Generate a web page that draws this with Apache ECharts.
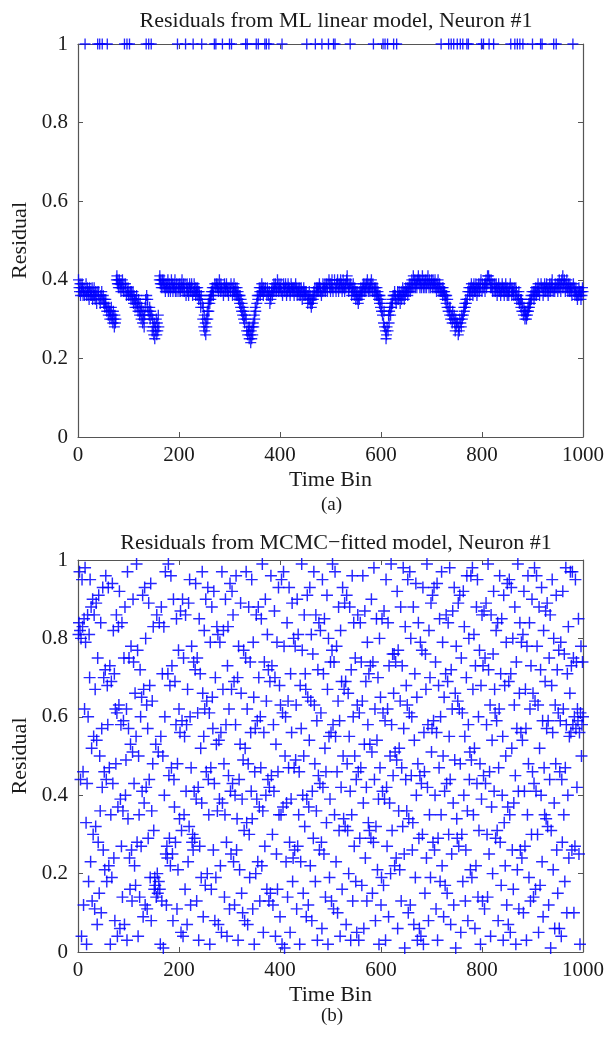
<!DOCTYPE html>
<html>
<head>
<meta charset="utf-8">
<script src="https://cdn.jsdelivr.net/npm/echarts@6/dist/echarts.min.js"></script>
<style>html,body{margin:0;padding:0;background:#fff;}#c{width:607px;height:1037px;}</style>
</head>
<body>
<div id="c"></div>
<script>
// ---------- DATA ----------
const titleA = 'Residuals from ML linear model, Neuron #1';
const titleB = 'Residuals from MCMC\u2212fitted model, Neuron #1';
const xTicks = [0, 200, 400, 600, 800, 1000];
const yTicks = [0, 0.2, 0.4, 0.6, 0.8, 1];

// time bins where the ML residual equals 1
const spikeBins = [14,39,43,48,58,92,97,102,135,140,145,197,213,228,245,270,273,286,300,304,332,335,353,357,370,373,378,404,453,470,483,496,506,509,539,585,604,608,613,625,631,719,734,739,744,751,757,762,770,773,799,803,814,823,857,865,870,875,881,900,916,919,942,947,980];

// ML residuals, bins 1..1000 (non-spike level)
const resA = [
.40,.38,.37,.39,.36,.38,.37,.39,.38,.36,.37,.38,.36,.38,.37,.39,.36,.37,.38,.36,.37,.35,.38,.37,.36,
.37,.36,.38,.35,.37,.36,.38,.36,.35,.37,.36,.34,.37,.35,.36,.37,.35,.36,.34,.36,.35,.37,.34,.35,.36,
.34,.35,.33,.34,.35,.33,.32,.34,.33,.31,.33,.32,.30,.32,.31,.33,.30,.31,.29,.32,.30,.28,.31,.29,.30,
.40,.41,.39,.40,.38,.39,.40,.38,.39,.37,.39,.38,.40,.38,.37,.39,.38,.37,.39,.38,.36,.38,.37,.38,.36,
.37,.38,.36,.37,.35,.37,.36,.35,.37,.34,.36,.35,.33,.35,.34,.36,.33,.34,.32,.35,.33,.31,.34,.32,.30,
.33,.31,.29,.32,.30,.28,.31,.33,.35,.34,.36,.33,.35,.32,.34,.31,.33,.30,.32,.29,.31,.27,.30,.28,.26,
.29,.25,.28,.27,.30,.26,.29,.27,.31,.28,.40,.41,.39,.40,.38,.39,.40,.38,.39,.40,.38,.39,.37,.39,.38,
.39,.38,.40,.37,.39,.38,.39,.37,.38,.40,.38,.39,.37,.38,.39,.38,.40,.37,.38,.39,.37,.38,.39,.38,.37,
.39,.38,.37,.39,.38,.40,.38,.37,.39,.38,.37,.39,.38,.36,.38,.39,.37,.38,.36,.38,.39,.37,.38,.37,.39,
.38,.36,.38,.37,.39,.37,.38,.36,.38,.37,.36,.38,.37,.35,.37,.36,.35,.33,.36,.32,.34,.30,.33,.28,.31,
.27,.29,.26,.30,.28,.32,.30,.34,.32,.35,.34,.36,.35,.37,.36,.38,.37,.36,.38,.37,.39,.38,.37,.39,.38,
.38,.39,.37,.38,.40,.38,.37,.39,.38,.37,.39,.38,.36,.38,.39,.37,.38,.37,.39,.38,.37,.38,.36,.38,.37,
.38,.37,.39,.37,.38,.36,.38,.37,.39,.37,.36,.38,.37,.36,.38,.36,.37,.35,.36,.34,.36,.33,.35,.32,.34,
.31,.33,.30,.32,.29,.31,.28,.30,.27,.29,.26,.28,.27,.25,.28,.26,.24,.27,.25,.28,.26,.29,.28,.31,.30,
.33,.32,.35,.34,.36,.35,.37,.36,.38,.37,.36,.38,.37,.39,.37,.38,.36,.38,.37,.39,.38,.37,.38,.36,.38,
.37,.36,.35,.37,.34,.36,.35,.37,.38,.36,.38,.37,.39,.38,.37,.39,.38,.37,.38,.40,.38,.37,.39,.38,.37,
.38,.39,.37,.38,.36,.38,.39,.37,.38,.37,.39,.38,.36,.38,.37,.39,.38,.37,.38,.36,.37,.39,.38,.37,.38,
.37,.38,.36,.38,.37,.39,.37,.38,.36,.37,.38,.37,.36,.38,.37,.36,.38,.37,.35,.37,.36,.38,.37,.36,.37,
.36,.37,.35,.36,.34,.36,.35,.37,.35,.34,.36,.33,.35,.34,.36,.35,.37,.36,.38,.37,.36,.38,.37,.38,.37,
.38,.37,.39,.38,.37,.38,.36,.38,.37,.39,.38,.37,.38,.39,.37,.38,.39,.38,.37,.39,.38,.40,.38,.39,.37,
.39,.38,.40,.38,.37,.39,.38,.40,.39,.38,.37,.39,.38,.40,.39,.37,.38,.39,.38,.40,.38,.39,.37,.38,.40,
.38,.39,.37,.38,.39,.38,.40,.41,.39,.38,.37,.39,.38,.37,.39,.38,.36,.38,.37,.39,.37,.36,.38,.37,.35,
.37,.36,.35,.37,.34,.36,.35,.37,.36,.38,.37,.36,.38,.37,.39,.38,.37,.39,.38,.37,.39,.38,.40,.38,.37,
.39,.38,.37,.39,.38,.40,.38,.37,.39,.38,.37,.38,.36,.38,.37,.36,.38,.36,.37,.35,.36,.34,.36,.33,.35,
.32,.34,.31,.33,.29,.32,.28,.30,.27,.25,.26,.28,.30,.27,.31,.29,.32,.33,.31,.34,.33,.35,.34,.36,.35,
.36,.37,.35,.36,.34,.36,.35,.37,.36,.35,.37,.36,.34,.36,.37,.35,.36,.38,.36,.37,.35,.37,.36,.38,.37,
.37,.38,.36,.38,.37,.39,.38,.37,.39,.38,.40,.38,.39,.41,.38,.40,.39,.38,.40,.39,.38,.40,.39,.41,.39,
.40,.38,.39,.40,.38,.39,.41,.39,.38,.40,.39,.38,.40,.39,.38,.40,.39,.41,.39,.38,.40,.39,.38,.39,.40,
.39,.38,.40,.39,.38,.39,.40,.38,.39,.37,.39,.38,.40,.38,.37,.39,.38,.37,.39,.37,.38,.36,.38,.37,.36,
.37,.35,.36,.34,.36,.33,.35,.32,.34,.33,.31,.33,.30,.32,.31,.29,.32,.30,.28,.31,.29,.27,.30,.28,.29,
.27,.29,.26,.28,.27,.30,.26,.29,.28,.31,.30,.32,.31,.33,.32,.34,.33,.35,.34,.36,.35,.37,.36,.38,.37,
.36,.38,.37,.39,.37,.38,.36,.38,.39,.37,.38,.37,.39,.38,.36,.38,.37,.39,.38,.37,.39,.38,.40,.38,.37,
.39,.38,.40,.38,.39,.37,.39,.40,.38,.39,.41,.39,.41,.38,.40,.39,.38,.40,.38,.39,.37,.39,.38,.37,.39,
.38,.37,.39,.38,.36,.38,.37,.39,.38,.37,.38,.36,.38,.37,.39,.38,.37,.38,.36,.38,.37,.39,.37,.38,.36,
.38,.37,.36,.38,.37,.39,.37,.38,.36,.37,.38,.37,.36,.38,.37,.36,.38,.37,.35,.37,.36,.35,.37,.34,.36,
.35,.33,.35,.32,.34,.33,.31,.33,.32,.30,.32,.31,.30,.32,.31,.33,.32,.34,.33,.35,.34,.36,.35,.37,.36,
.36,.37,.35,.37,.36,.38,.37,.36,.38,.37,.39,.37,.38,.36,.38,.37,.39,.38,.37,.38,.36,.38,.37,.39,.38,
.37,.38,.39,.37,.38,.36,.38,.37,.39,.38,.37,.39,.38,.40,.38,.37,.39,.38,.37,.39,.38,.40,.38,.39,.37,
.39,.38,.40,.38,.39,.37,.39,.40,.38,.41,.39,.38,.40,.39,.37,.39,.38,.40,.38,.37,.39,.38,.37,.39,.38,
.37,.38,.36,.38,.37,.39,.37,.38,.36,.37,.38,.36,.37,.35,.37,.36,.38,.37,.36,.37,.35,.37,.36,.38,.37
];

// MCMC residuals, bins 1..1000
const resB = [
.81,.84,.97,.82,.44,.80,.04,.95,.83,.46,.12,.85,.62,.98,.79,.33,.02,.43,.86,.60,.18,.81,.70,.95,.23,
.88,.52,.13,.90,.30,.55,.86,.11,.67,.32,.89,.54,.07,.75,.28,.91,.15,.50,.36,.84,.10,.57,.42,.93,.26,
.70,.46,.21,.72,.96,.44,.18,.68,.58,.93,.22,.47,.73,.02,.35,.69,.19,.94,.43,.82,.24,.71,.08,.62,.48,
.86,.61,.04,.37,.83,.63,.92,.06,.39,.58,.27,.84,.14,.36,.59,.75,.07,.88,.40,.49,.62,.03,.97,.34,.57,
.75,.24,.16,.53,.78,.26,.13,.51,.90,.74,.43,.22,.66,.17,.55,.99,.28,.77,.04,.50,.35,.14,.72,.60,.27,
.65,.41,.91,.09,.67,.38,.93,.12,.80,.42,.63,.11,.57,.29,.89,.44,.68,.19,.94,.08,.36,.64,.48,.83,.31,
.16,.19,.17,.53,.14,.86,.20,.15,.51,.18,.84,.16,.02,.55,.88,.13,.71,.50,.01,.83,.40,.60,.97,.25,.12,
.27,.24,.71,.99,.45,.29,.68,.22,.96,.47,.73,.25,.08,.90,.44,.37,.69,.28,.58,.85,.11,.48,.21,.77,.62,
.34,.56,.87,.05,.31,.59,.90,.04,.75,.35,.55,.16,.86,.41,.58,.07,.67,.23,.89,.32,.95,.60,.12,.47,.78,
.28,.30,.26,.74,.41,.29,.72,.94,.39,.13,.75,.61,.42,.03,.85,.27,.71,.52,.19,.38,.97,.66,.09,.55,.82,
.62,.17,.90,.46,.64,.20,.93,.44,.35,.61,.02,.79,.47,.16,.88,.65,.57,.26,.92,.43,.08,.70,.19,.53,.83,
.36,.81,.07,.54,.39,.79,.22,.56,.05,.97,.38,.67,.82,.48,.14,.35,.90,.58,.28,.04,.73,.83,.45,.62,.11,
.94,.41,.25,.67,.92,.43,.86,.23,.69,.12,.40,.58,.96,.26,.34,.70,.03,.78,.44,.21,.53,.89,.66,.15,.39,
.10,.49,.77,.31,.08,.52,.75,.97,.33,.62,.07,.48,.88,.30,.19,.74,.56,.41,.95,.34,.11,.79,.65,.02,.46,
.57,.20,.86,.39,.59,.23,.88,.70,.37,.13,.60,.47,.85,.22,.99,.36,.05,.56,.74,.27,.90,.40,.64,.16,.81,
.44,.72,.13,.42,.69,.15,.96,.45,.73,.30,.12,.58,.41,.87,.70,.04,.53,.25,.79,.16,.46,.93,.35,.68,.09,
.63,.35,.95,.02,.61,.37,.97,.78,.01,.50,.60,.23,.38,.84,.14,.64,.47,.93,.28,.05,.71,.39,.56,.89,.18,
.24,.80,.47,.26,.78,.49,.63,.11,.90,.27,.81,.35,.46,.02,.68,.23,.57,.99,.77,.40,.15,.50,.86,.32,.71,
.67,.09,.39,.91,.65,.12,.37,.54,.93,.22,.64,.81,.08,.41,.76,.29,.97,.63,.48,.18,.86,.36,.59,.03,.72,
.45,.84,.26,.43,.82,.61,.28,.06,.95,.42,.71,.25,.85,.52,.14,.46,.33,.91,.67,.02,.80,.55,.19,.39,.74,
.56,.13,.77,.99,.58,.11,.74,.35,.97,.55,.23,.78,.46,.10,.64,.88,.31,.59,.04,.82,.42,.69,.16,.93,.50,
.34,.67,.89,.32,.69,.07,.91,.48,.31,.66,.20,.55,.88,.41,.03,.72,.35,.96,.13,.60,.84,.27,.50,.75,.18,
.44,.05,.63,.86,.46,.03,.61,.29,.84,.47,.74,.17,.64,.96,.38,.06,.53,.87,.24,.69,.42,.13,.79,.58,.33,
.71,.31,.53,.73,.29,.90,.51,.15,.74,.28,.98,.44,.62,.08,.32,.85,.54,.21,.70,.39,.02,.80,.47,.65,.12,
.19,.85,.41,.61,.17,.87,.39,.59,.03,.95,.42,.27,.62,.84,.09,.73,.38,.50,.20,.99,.58,.31,.76,.45,.66,
.76,.22,.51,.74,.24,.49,.92,.06,.77,.36,.52,.21,.64,.88,.13,.47,.73,.32,.98,.57,.25,.01,.83,.44,.68,
.36,.63,.95,.10,.34,.61,.97,.12,.80,.45,.60,.26,.33,.88,.07,.54,.71,.19,.94,.40,.65,.03,.48,.84,.29,
.06,.45,.79,.04,.43,.77,.30,.93,.02,.56,.46,.15,.76,.67,.24,.99,.42,.58,.08,.82,.35,.70,.19,.89,.51,
.57,.91,.28,.59,.93,.26,.40,.74,.11,.56,.94,.03,.29,.68,.47,.85,.18,.60,.35,.97,.22,.79,.50,.09,.65,
.41,.17,.71,.86,.43,.15,.69,.84,.30,.55,.98,.44,.07,.72,.25,.62,.87,.38,.12,.93,.49,.66,.01,.78,.34,
.29,.64,.89,.27,.62,.91,.48,.05,.75,.30,.61,.18,.92,.40,.83,.55,.13,.26,.70,.96,.36,.08,.58,.80,.44,
.51,.21,.96,.49,.19,.98,.67,.35,.81,.52,.06,.73,.22,.88,.43,.95,.14,.60,.31,.77,.48,.02,.68,.39,.86,
.13,.73,.45,.87,.11,.75,.43,.89,.58,.30,.14,.99,.72,.25,.46,.63,.04,.86,.37,.54,.20,.76,.92,.41,.67,
.61,.29,.82,.59,.31,.84,.08,.47,.62,.96,.28,.71,.17,.85,.40,.55,.03,.91,.33,.68,.22,.50,.79,.12,.94,
.37,.07,.69,.95,.35,.05,.71,.93,.52,.26,.80,.16,.38,.63,.88,.45,.02,.74,.57,.21,.99,.41,.11,.66,.84,
.26,.56,.79,.24,.54,.81,.10,.92,.41,.27,.67,.57,.03,.78,.35,.96,.48,.19,.84,.62,.13,.73,.30,.90,.46,
.66,.14,.43,.98,.64,.16,.41,.96,.78,.30,.63,.05,.88,.52,.17,.72,.40,.93,.23,.59,.09,.82,.47,.35,.69,
.87,.34,.57,.89,.32,.59,.12,.75,.44,.86,.01,.31,.68,.95,.56,.21,.80,.38,.06,.63,.48,.91,.26,.72,.15,
.61,.77,.06,.46,.59,.79,.04,.44,.28,.92,.62,.35,.76,.18,.47,.98,.58,.10,.71,.40,.83,.24,.55,.66,.97,
.56,.73,.26,.97,.58,.75,.10,.60,.27,.95,.57,.74,.42,.62,.59,.85,.25,.56,.02,.61,.78,.50,.58,.74,.60
];

// ---------- CHART ----------
const FONT = 'Liberation Serif';
const TXT = '#1a1a1a';
const AX = '#555';
const BLUE = '#0000ff';
const plus = 'path://M4.4,0H5.6V4.4H10V5.6H5.6V10H4.4V5.6H0V4.4H4.4Z';

const topData = resA.map((v, i) => [i + 1, spikeBins.indexOf(i + 1) >= 0 ? 1 : v]);
const botData = resB.map((v, i) => [i + 1, v]);

function xAx(grid, main) {
  return {
    type: 'value', gridIndex: grid, min: xTicks[0], max: xTicks[xTicks.length - 1], interval: 200,
    position: main ? 'bottom' : 'top',
    name: main ? 'Time Bin' : '', nameLocation: 'middle', nameGap: 32,
    nameTextStyle: {fontFamily: FONT, fontSize: 22, color: TXT},
    axisLine: {show: true, onZero: false, lineStyle: {color: AX, width: 1.2}},
    axisTick: {show: true, inside: true, length: 5, lineStyle: {color: AX}},
    axisLabel: {show: main, margin: 8, fontFamily: FONT, fontSize: 21, color: TXT,
      formatter: v => String(v)},
    splitLine: {show: false}
  };
}
function yAx(grid, main) {
  return {
    type: 'value', gridIndex: grid, min: yTicks[0], max: yTicks[yTicks.length - 1], interval: 0.2,
    position: main ? 'left' : 'right',
    name: main ? 'Residual' : '', nameLocation: 'middle', nameGap: 43, nameRotate: 90,
    nameTextStyle: {fontFamily: FONT, fontSize: 22, color: TXT},
    axisLine: {show: true, onZero: false, lineStyle: {color: AX, width: 1.2}},
    axisTick: {show: true, inside: true, length: 5, lineStyle: {color: AX}},
    axisLabel: {show: main, margin: 10, fontFamily: FONT, fontSize: 21, color: TXT},
    splitLine: {show: false}
  };
}

const chart = echarts.init(document.getElementById('c'), null, {renderer: 'canvas'});
chart.setOption({
  backgroundColor: '#fff',
  animation: false,
  title: [
    {text: titleA, left: 331, textAlign: 'center', top: 5, textStyle: {fontFamily: FONT, fontSize: 22, fontWeight: 'normal', color: TXT}},
    {text: titleB, left: 331, textAlign: 'center', top: 527, textStyle: {fontFamily: FONT, fontSize: 22, fontWeight: 'normal', color: TXT}}
  ],
  graphic: [
    {type: 'text', left: 321, top: 496, style: {text: '(a)', font: '19px "Liberation Serif"', fill: TXT}},
    {type: 'text', left: 321, top: 1007, style: {text: '(b)', font: '19px "Liberation Serif"', fill: TXT}}
  ],
  grid: [
    {left: 78, right: 24, top: 44, height: 393},
    {left: 78, right: 24, top: 560, height: 392}
  ],
  xAxis: [xAx(0, true), xAx(0, false), xAx(1, true), xAx(1, false)],
  yAxis: [yAx(0, true), yAx(0, false), yAx(1, true), yAx(1, false)],
  series: [
    {type: 'scatter', xAxisIndex: 0, yAxisIndex: 0, data: topData, symbol: plus, symbolSize: 11,
      itemStyle: {color: BLUE, opacity: 0.85}, silent: true, clip: false},
    {type: 'scatter', xAxisIndex: 2, yAxisIndex: 2, data: botData, symbol: plus, symbolSize: 12,
      itemStyle: {color: BLUE, opacity: 0.85}, silent: true, clip: false}
  ]
});
</script>
</body>
</html>
